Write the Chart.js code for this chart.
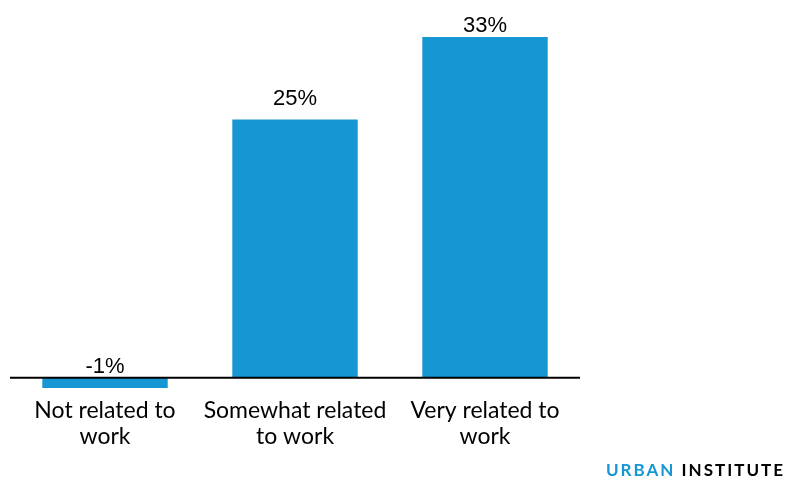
<!DOCTYPE html>
<html>
<head>
<meta charset="utf-8">
<script src="https://cdn.jsdelivr.net/npm/chart.js@4.4.0/dist/chart.umd.min.js"></script>
<style>
html,body{margin:0;padding:0;background:#fff;}
#wrap{position:relative;width:785px;height:478px;}
</style>
</head>
<body>
<div id="wrap"><canvas id="c" width="785" height="478"></canvas></div>
<script>
const categories = [["Not related to","work"],["Somewhat related","to work"],["Very related to","work"]];
const values = [-1, 25, 33];
const valueLabels = ["-1%", "25%", "33%"];

const BLUE = '#1696d2';

const dataLabelPlugin = {
  id: 'dataLabels',
  afterDatasetsDraw(chart) {
    const ctx = chart.ctx;
    const meta = chart.getDatasetMeta(0);
    const yScale = chart.scales.y;
    const zero = yScale.getPixelForValue(0);
    // zero line
    ctx.save();
    ctx.strokeStyle = '#000';
    ctx.lineWidth = 2;
    ctx.beginPath();
    ctx.moveTo(chart.chartArea.left, zero);
    ctx.lineTo(chart.chartArea.right, zero);
    ctx.stroke();
    ctx.fillStyle = '#000';
    ctx.font = '22px "Liberation Sans", Arial, sans-serif';
    ctx.textAlign = 'center';
    ctx.textBaseline = 'alphabetic';
    meta.data.forEach((bar, i) => {
      let y;
      if (values[i] < 0) {
        y = zero - 5;
      } else {
        y = Math.max(bar.y - 15, 32);
      }
      ctx.fillText(valueLabels[i], bar.x, y);
    });
    // logo
    ctx.font = 'bold 17px Lato, sans-serif';
    ctx.textAlign = 'left';
    ctx.textBaseline = 'alphabetic';
    if ('letterSpacing' in ctx) ctx.letterSpacing = '2px';
    const w1 = ctx.measureText('URBAN ').width;
    const w2 = ctx.measureText('INSTITUTE').width;
    const x0 = 785 - w1 - w2;
    ctx.fillStyle = BLUE;
    ctx.fillText('URBAN ', x0, 476);
    ctx.fillStyle = '#000';
    ctx.fillText('INSTITUTE', x0 + w1, 476);
    ctx.restore();
  }
};

new Chart(document.getElementById('c'), {
  type: 'bar',
  data: {
    labels: categories,
    datasets: [{
      data: values,
      backgroundColor: BLUE,
      borderWidth: 0,
      categoryPercentage: 1,
      barPercentage: 0.66
    }]
  },
  options: {
    responsive: false,
    animation: false,
    events: [],
    layout: { padding: { left: 10, right: 205, top: 37, bottom: 0 } },
    plugins: { legend: { display: false }, tooltip: { enabled: false }, title: { display: false } },
    scales: {
      y: { display: false, min: -1, max: 33 },
      x: {
        grid: { display: false, drawTicks: false },
        border: { display: false },
        ticks: {
          color: '#000',
          padding: 9,
          maxRotation: 0,
          autoSkip: false,
          font: { family: 'Lato', size: 23, lineHeight: 1.15 }
        },
        afterFit(scale) { scale.height = 90; }
      }
    }
  },
  plugins: [dataLabelPlugin]
});
</script>
</body>
</html>
